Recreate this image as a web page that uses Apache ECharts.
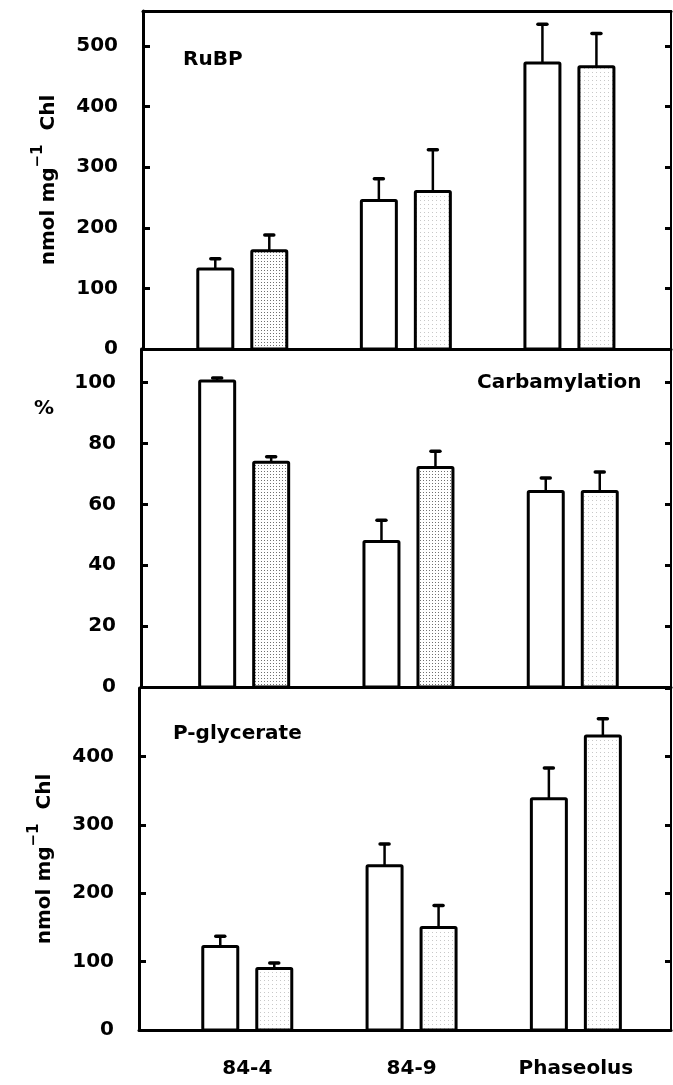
<!DOCTYPE html>
<html>
<head>
<meta charset="utf-8">
<script src="https://cdn.jsdelivr.net/npm/echarts@6/dist/echarts.min.js"></script>
<style>
  html, body { margin: 0; padding: 0; background: #fff; }
  #chart { width: 673px; height: 1085px; }
</style>
</head>
<body>
<div id="chart"></div>
<script>
// groups on the x axis
const categories = ['84-4', '84-9', 'Phaseolus']

// RuBP, nmol mg-1 Chl (first / second bar of each group)
const rubpA = [132, 245, 472]
const rubpAErr = [17, 36, 64]
const rubpB = [162, 260, 466]
const rubpBErr = [26, 69, 55]

// Carbamylation, %
const carbA = [100.5, 47.8, 64.2]
const carbAErr = [1, 7, 4.4]
const carbB = [73.8, 72.1, 64.2]
const carbBErr = [1.8, 5.3, 6.4]

// P-glycerate, nmol mg-1 Chl
const pgaA = [122, 240, 338]
const pgaAErr = [15, 32, 45]
const pgaB = [90, 150, 430]
const pgaBErr = [8, 32, 25]

const rubpTicks = { min: 0, max: 558, interval: 100 }
const carbTicks = { min: 0, max: 111, interval: 20 }
const pgaTicks = { min: 0, max: 500, interval: 100 }

const FONT = 'DejaVu Sans'

// dotted fill like the printed stipple
function stipple (step, color) {
  const c = document.createElement('canvas')
  c.width = step
  c.height = step
  const g = c.getContext('2d')
  g.fillStyle = '#fff'
  g.fillRect(0, 0, step, step)
  g.fillStyle = color
  g.fillRect(0, 0, 1, 1)
  return { image: c, repeat: 'repeat' }
}
const fills = ['#fff', stipple(4, '#c8c8c8'), stipple(3, '#707070')]
// shade level of the second bar in every panel (1 faint, 2 dense)
const shades = [[2, 1, 1], [2, 2, 1], [1, 1, 1]]

function buildData (a, aErr, b, bErr, shade) {
  const out = []
  a.forEach((v, i) => {
    out.push([i, v, aErr[i], 0, 0])
    out.push([i, b[i], bErr[i], 1, shade[i]])
  })
  return out
}

function renderBar (params, api) {
  const x = api.value(0)
  const v = api.value(1)
  const e = api.value(2)
  const k = api.value(3)
  const shade = api.value(4)
  const p0 = api.coord([x, 0])
  const p1 = api.coord([x, v])
  const p2 = api.coord([x, v + e])
  const cx = p0[0] + (k ? 27 : -27)
  const w = 35
  return {
    type: 'group',
    children: [
      { type: 'line', shape: { x1: cx, y1: p1[1], x2: cx, y2: p2[1] }, style: { stroke: '#000', lineWidth: 2.5 } },
      { type: 'line', shape: { x1: cx - 4.5, y1: p2[1], x2: cx + 4.5, y2: p2[1] }, style: { stroke: '#000', lineWidth: 3.5, lineCap: 'round' } },
      {
        type: 'rect',
        shape: { x: cx - w / 2, y: p1[1], width: w, height: p0[1] - p1[1], r: 1 },
        style: { fill: fills[shade] || '#fff', stroke: '#000', lineWidth: 3 }
      }
    ]
  }
}

const panels = [
  { grid: { left: 143, right: 2, top: 11, height: 338 }, xMin: -0.607, xMax: 2.621, ticks: rubpTicks, data: buildData(rubpA, rubpAErr, rubpB, rubpBErr, shades[0]), unit: true },
  { grid: { left: 141, right: 2, top: 349, height: 338 }, xMin: -0.628, xMax: 2.598, ticks: carbTicks, data: buildData(carbA, carbAErr, carbB, carbBErr, shades[1]), unit: false },
  { grid: { left: 139, right: 2, top: 688, height: 342 }, xMin: -0.659, xMax: 2.579, ticks: pgaTicks, data: buildData(pgaA, pgaAErr, pgaB, pgaBErr, shades[2]), unit: true }
]

const unitName = '{a|nmol mg}{s|−1}{a|  Chl}'
const unitStyle = {
  color: '#000',
  rich: {
    a: { fontFamily: FONT, fontWeight: 'bold', fontSize: 20, lineHeight: 28, verticalAlign: 'bottom', color: '#000' },
    s: { fontFamily: FONT, fontWeight: 'bold', fontSize: 15, lineHeight: 28, verticalAlign: 'top', color: '#000' }
  }
}

const blackLine = (w) => ({ show: true, onZero: false, lineStyle: { color: '#000', width: w } })

const xAxes = []
const yAxes = []
const series = []
panels.forEach((p, i) => {
  xAxes.push({
    gridIndex: i,
    type: 'value',
    min: p.xMin,
    max: p.xMax,
    axisLine: blackLine(3),
    axisTick: { show: false },
    splitLine: { show: false },
    axisLabel: i === 2
      ? {
          customValues: [0, 1, 2],
          margin: 29,
          color: '#000',
          fontFamily: FONT,
          fontWeight: 'bold',
          fontSize: 20,
          formatter: v => (Number.isInteger(v) && categories[v]) ? categories[v] : ''
        }
      : { show: false }
  })
  yAxes.push({
    gridIndex: i,
    type: 'value',
    position: 'left',
    min: p.ticks.min,
    max: p.ticks.max,
    interval: p.ticks.interval,
    axisLine: blackLine(3),
    axisTick: { show: true, inside: true, length: 7, lineStyle: { color: '#000', width: 3 } },
    splitLine: { show: false },
    axisLabel: { margin: 25, color: '#000', fontFamily: FONT, fontWeight: 'bold', fontSize: 20, showMaxLabel: false },
    name: p.unit ? unitName : '',
    nameLocation: 'middle',
    nameRotate: 90,
    nameGap: 84,
    nameTextStyle: unitStyle
  })
  yAxes.push({
    gridIndex: i,
    type: 'value',
    position: 'right',
    min: p.ticks.min,
    max: p.ticks.max,
    interval: p.ticks.interval,
    axisLine: blackLine(2),
    axisTick: { show: true, inside: true, length: 6, lineStyle: { color: '#000', width: 3 } },
    splitLine: { show: false },
    axisLabel: { show: false }
  })
  series.push({
    type: 'custom',
    xAxisIndex: i,
    yAxisIndex: i * 2,
    renderItem: renderBar,
    encode: { x: 0, y: 1 },
    clip: false,
    data: p.data
  })
})

// top frame of the first panel
xAxes.push({
  gridIndex: 0,
  type: 'value',
  position: 'top',
  min: panels[0].xMin,
  max: panels[0].xMax,
  axisLine: blackLine(3),
  axisTick: { show: false },
  axisLabel: { show: false },
  splitLine: { show: false }
})

const titleText = { color: '#000', fontFamily: FONT, fontWeight: 'bold', fontSize: 20 }

const chart = echarts.init(document.getElementById('chart'), null, { renderer: 'canvas' })
chart.setOption({
  animation: false,
  backgroundColor: '#fff',
  title: [
    { text: 'RuBP', left: 183, top: 50, padding: 0, textStyle: titleText },
    { text: 'Carbamylation', left: 477, top: 373, padding: 0, textStyle: titleText },
    { text: 'P-glycerate', left: 173, top: 724, padding: 0, textStyle: titleText },
    { text: '%', left: 34, top: 399, padding: 0, textStyle: titleText }
  ],
  grid: panels.map(p => p.grid),
  xAxis: xAxes,
  yAxis: yAxes,
  series: series
})
</script>
</body>
</html>
